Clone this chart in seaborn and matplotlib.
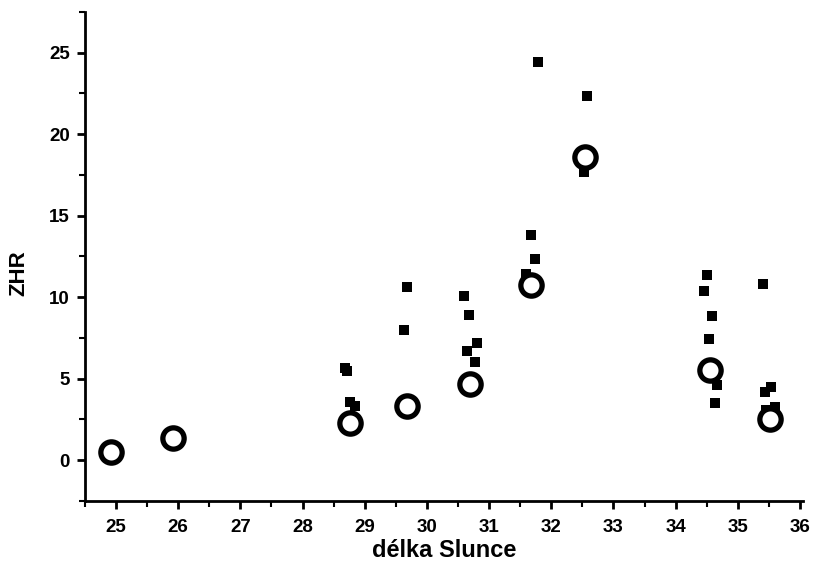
import matplotlib
matplotlib.use("Agg")
import matplotlib.pyplot as plt
import seaborn as sns
import pandas as pd
from matplotlib.ticker import MultipleLocator

# Individual observations (filled squares)
obs_x = [28.69, 28.71, 28.77, 28.85, 29.63, 29.68, 30.60, 30.68, 30.80, 30.64, 30.77,
         31.79, 31.67, 31.73, 31.59, 32.57, 32.52,
         34.50, 34.45, 34.58, 34.53, 34.66, 34.63,
         35.41, 35.53, 35.44, 35.60, 35.46]
obs_y = [5.65, 5.45, 3.58, 3.33, 7.98, 10.63, 10.08, 8.92, 7.20, 6.70, 6.03,
         24.44, 13.82, 12.37, 11.45, 22.37, 17.69,
         11.39, 10.37, 8.83, 7.46, 4.60, 3.52,
         10.78, 4.50, 4.19, 3.27, 3.10]

# Averages (open circles)
mean_x = [24.92, 25.92, 28.77, 29.68, 30.70, 31.67, 32.54, 34.55, 35.51]
mean_y = [0.50, 1.38, 2.30, 3.30, 4.70, 10.74, 18.62, 5.56, 2.50]

x_label = "délka Slunce"
y_label = "ZHR"

sns.set_theme(style="ticks")
plt.rcParams['font.family'] = ['Liberation Sans', 'DejaVu Sans']
plt.rcParams['font.weight'] = 'bold'

fig = plt.figure(figsize=(8.17, 5.68), dpi=100)
ax = fig.add_axes([0.104, 0.118, 0.879, 0.861])

df_obs = pd.DataFrame({"x": obs_x, "y": obs_y})
df_mean = pd.DataFrame({"x": mean_x, "y": mean_y})

sns.scatterplot(data=df_obs, x="x", y="y", marker="s", s=52, color="black",
                linewidth=0, ax=ax, zorder=3)
sns.scatterplot(data=df_mean, x="x", y="y", marker="o", s=235, facecolor="white",
                edgecolor="black", linewidth=3.8, ax=ax, zorder=4)

ax.set_xlim(24.5, 36.05)
ax.set_ylim(-2.5, 27.5)
ax.xaxis.set_major_locator(MultipleLocator(1))
ax.xaxis.set_minor_locator(MultipleLocator(0.5))
ax.yaxis.set_major_locator(MultipleLocator(5))
ax.yaxis.set_minor_locator(MultipleLocator(2.5))

for s in ["top", "right"]:
    ax.spines[s].set_visible(False)
for s in ["left", "bottom"]:
    ax.spines[s].set_linewidth(2)
    ax.spines[s].set_color("black")

ax.tick_params(which="major", direction="out", length=6, width=2, color="black",
               labelsize=13.5, labelcolor="black")
ax.tick_params(axis="x", which="major", pad=7)
ax.tick_params(axis="y", which="major", pad=5)
ax.tick_params(which="minor", direction="out", length=4, width=1.5, color="black")
for lbl in ax.get_xticklabels() + ax.get_yticklabels():
    lbl.set_fontweight("bold")

ax.set_xlabel(x_label, fontsize=17, fontweight="bold", color="black", labelpad=2)
ax.set_ylabel(y_label, fontsize=16, fontweight="bold", color="black")
ax.yaxis.set_label_coords(-0.078, 0.466)

fig.savefig("out.png", dpi=100, facecolor="white")
